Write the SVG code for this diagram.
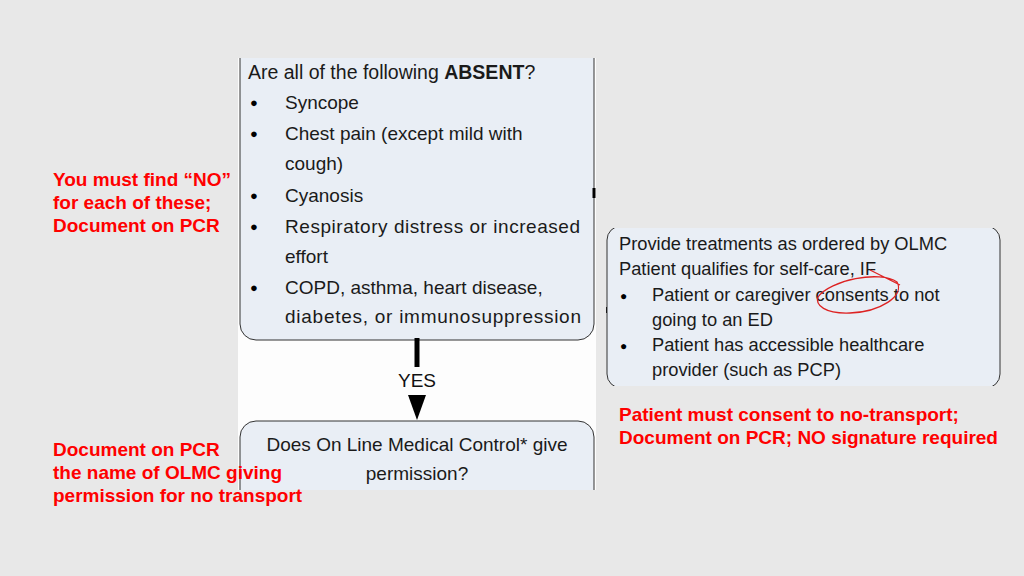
<svg xmlns="http://www.w3.org/2000/svg" width="1024" height="576" viewBox="0 0 1024 576">
<style>
.t{font-family:"Liberation Sans",Arial,sans-serif;font-size:19px;fill:#1a1a1a}
.b{font-family:"Liberation Sans",Arial,sans-serif;font-size:13px;fill:#000}
.r{font-family:"Liberation Sans",Arial,sans-serif;font-size:19px;font-weight:bold;fill:#ff0000}
.box{fill:#e9eef5;stroke:#333;stroke-width:1}
</style>
<defs><clipPath id="pc"><rect x="238" y="58" width="358" height="432"/></clipPath>
<clipPath id="rc"><rect x="605" y="228" width="396" height="158"/></clipPath></defs>
<rect width="1024" height="576" fill="#e8e8e8"/>
<rect x="238" y="58" width="358" height="432" fill="#fdfdfd"/>
<g clip-path="url(#pc)">
<g id="n1"><rect class="box" x="240" y="40" width="354" height="300" rx="16"/>
<text class="t" x="248" y="79" style="font-size:19.5px">Are all of the following <tspan font-weight="bold">ABSENT</tspan>?</text>
<g class="t"><text class="b" x="250" y="107">●</text><text x="285" y="109">Syncope</text>
<text class="b" x="250" y="138">●</text><text x="285" y="140">Chest pain (except mild with</text><text x="285" y="170">cough)</text>
<text class="b" x="250" y="200">●</text><text x="285" y="202">Cyanosis</text>
<text class="b" x="250" y="231">●</text><text x="285" y="233" textLength="295">Respiratory distress or increased</text><text x="285" y="263">effort</text>
<text class="b" x="250" y="292">●</text><text x="285" y="294">COPD, asthma, heart disease,</text><text x="285" y="323" textLength="296">diabetes, or immunosuppression</text></g></g>
<g id="n2"><rect class="box" x="240" y="421" width="354" height="100" rx="16"/>
<text class="t" x="417" y="451" text-anchor="middle">Does On Line Medical Control* give</text>
<text class="t" x="417" y="480" text-anchor="middle">permission?</text></g>
</g>
<g id="connectors">
<line x1="417" y1="338" x2="417" y2="367" stroke="#000" stroke-width="5"/>
<polygon points="408,395 426,395 417,420" fill="#000"/>
<text x="417" y="387" text-anchor="middle" font-family="Liberation Sans,Arial,sans-serif" font-size="19" fill="#111">YES</text>
<line x1="594" y1="188" x2="594" y2="198" stroke="#000" stroke-width="3"/>
<line x1="607" y1="307" x2="607" y2="313" stroke="#000" stroke-width="2"/>
</g>
<g id="n3" clip-path="url(#rc)"><rect class="box" x="607" y="226" width="393" height="162" rx="14"/>
<g class="t" style="font-size:18.3px"><text x="619" y="250">Provide treatments as ordered by OLMC</text>
<text x="619" y="275">Patient qualifies for self-care, IF</text>
<text class="b" x="620" y="300" style="font-size:12px">●</text><text x="652" y="301">Patient or caregiver consents to not</text><text x="652" y="326">going to an ED</text>
<text class="b" x="620" y="350" style="font-size:12px">●</text><text x="652" y="351">Patient has accessible healthcare</text><text x="652" y="376">provider (such as PCP)</text></g>
<path d="M818,297 C830,280 880,270 897,282 C905,296 880,312 850,313 C825,314 815,305 818,297 M870,270 L900,285" fill="none" stroke="#d22" stroke-width="1.3"/></g>
<g id="notes">
<text class="r" x="53" y="186">You must find “NO”</text>
<text class="r" x="53" y="209">for each of these;</text>
<text class="r" x="53" y="232">Document on PCR</text>
<text class="r" x="619" y="421">Patient must consent to no-transport;</text>
<text class="r" x="619" y="444">Document on PCR; NO signature required</text>
<text class="r" x="53" y="456">Document on PCR</text>
<text class="r" x="53" y="479">the name of OLMC giving</text>
<text class="r" x="53" y="502">permission for no transport</text>
</g>
</svg>
